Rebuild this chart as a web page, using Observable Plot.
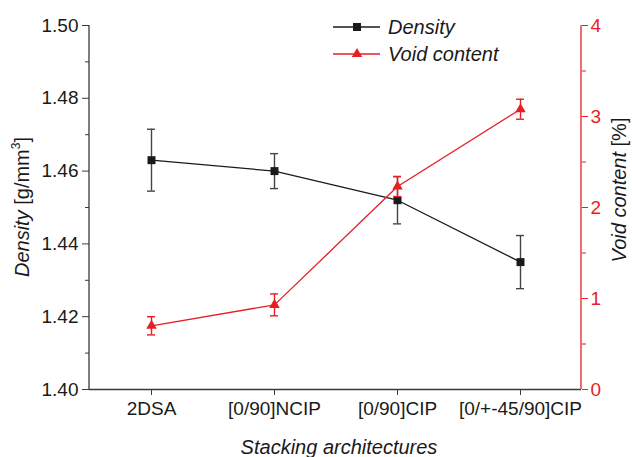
<!DOCTYPE html>
<html><head><meta charset="utf-8">
<script src="https://cdn.jsdelivr.net/npm/d3@7"></script>
<script src="https://cdn.jsdelivr.net/npm/@observablehq/plot@0.6"></script>
<style>
html,body{margin:0;padding:0;background:#fff;}
#chart{position:relative;width:632px;height:457px;}
</style></head><body><div id="chart"></div>
<script>
// ---- data ----
const categories = ["2DSA", "[0/90]NCIP", "[0/90]CIP", "[0/+-45/90]CIP"];
const density = [1.463, 1.460, 1.452, 1.435];
const densityErr = [0.0085, 0.0048, 0.0065, 0.0073];
const voidContent = [0.70, 0.93, 2.23, 3.08];
const voidErr = [0.10, 0.12, 0.11, 0.11];
const densityTicks = [1.40, 1.42, 1.44, 1.46, 1.48, 1.50];
const densityMinorTicks = [1.41, 1.43, 1.45, 1.47, 1.49];
const voidTicks = [0, 1, 2, 3, 4];
const voidMinorTicks = [0.5, 1.5, 2.5, 3.5];

// ---- mapping of the right (void) axis onto the left (density) scale ----
const Y0 = 1.40, Y1 = 1.50, V1 = 4;
const K = (Y1 - Y0) / V1;
const toY = v => Y0 + v * K;
const fromY = y => (y - Y0) / K;

const rows = categories.map((c, i) => ({
  cat: c,
  d: density[i], dlo: density[i] - densityErr[i], dhi: density[i] + densityErr[i],
  v: toY(voidContent[i]), vlo: toY(voidContent[i] - voidErr[i]), vhi: toY(voidContent[i] + voidErr[i])
}));

const black = "#1a1a1a", axisGray = "#3a3a3a", errGray = "#444", red = "#e61e25";
const font = "'Liberation Sans', Arial, sans-serif";

// band scale whose narrow bands give the error-bar cap width
const capFrac = 8 / 123;
const plot = Plot.plot({
  width: 632, height: 457,
  marginLeft: 89, marginRight: 51, marginTop: 25, marginBottom: 68,
  style: {fontFamily: font, fontSize: "19px", color: black, background: "#fff", overflow: "visible"},
  x: {type: "band", domain: categories, paddingInner: 1 - capFrac, paddingOuter: (1 - capFrac) / 2, label: null},
  y: {domain: [Y0, Y1], label: null},
  marks: [
    Plot.ruleY([Y0], {stroke: axisGray, strokeWidth: 1.3}),
    Plot.axisY({ticks: densityTicks, tickFormat: d => d.toFixed(2), tickSize: 7, tickPadding: 4,
      stroke: axisGray, fill: black, fontSize: 19, label: null}),
    Plot.axisY({ticks: densityMinorTicks, tickFormat: () => "", tickSize: 4, stroke: axisGray, label: null}),
    Plot.axisY({anchor: "right", ticks: voidTicks.map(toY), tickFormat: d => String(Math.round(fromY(d))),
      tickSize: 6, tickPadding: 3, stroke: red, fill: red, fontSize: 19, label: null}),
    Plot.axisY({anchor: "right", ticks: voidMinorTicks.map(toY), tickFormat: () => "", tickSize: 4, stroke: red, label: null}),
    Plot.axisX({tickSize: 6, tickPadding: 6, stroke: axisGray, fill: black, fontSize: 19, label: null}),

    // density series
    Plot.line(rows, {x: "cat", y: "d", stroke: black, strokeWidth: 1.3}),
    Plot.ruleX(rows, {x: "cat", y1: "dlo", y2: "dhi", stroke: errGray, strokeWidth: 1.4}),
    Plot.tickY(rows, {x: "cat", y: "dhi", stroke: errGray, strokeWidth: 1.4}),
    Plot.tickY(rows, {x: "cat", y: "dlo", stroke: errGray, strokeWidth: 1.4}),
    Plot.dot(rows, {x: "cat", y: "d", symbol: "square", r: 4.5, fill: black, stroke: "none"}),

    // void content series
    Plot.line(rows, {x: "cat", y: "v", stroke: red, strokeWidth: 1.3}),
    Plot.ruleX(rows, {x: "cat", y1: "vlo", y2: "vhi", stroke: red, strokeWidth: 1.4}),
    Plot.tickY(rows, {x: "cat", y: "vhi", stroke: red, strokeWidth: 1.4}),
    Plot.tickY(rows, {x: "cat", y: "vlo", stroke: red, strokeWidth: 1.4}),
    Plot.dot(rows, {x: "cat", y: "v", symbol: "triangle", r: 3.9, fill: red, stroke: "none"})
  ]
});

document.getElementById("chart").appendChild(plot);

// ---- axis lines, titles and legend ----
const svg = d3.select(plot);
const [xl, xr] = plot.scale("x").range;
const [yb, yt] = plot.scale("y").range;
const ym = (yb + yt) / 2;

svg.append("line").attr("x1", xl).attr("x2", xl).attr("y1", yt).attr("y2", yb)
  .attr("stroke", axisGray).attr("stroke-width", 1.3);
svg.append("line").attr("x1", xr).attr("x2", xr).attr("y1", yt).attr("y2", yb)
  .attr("stroke", red).attr("stroke-width", 1.3);

const titles = svg.append("g").attr("font-family", font).attr("font-size", 20).attr("fill", black);

const lt = titles.append("text").attr("text-anchor", "middle")
  .attr("transform", `translate(${xl - 60},${ym}) rotate(-90)`);
lt.append("tspan").attr("font-style", "italic").text("Density");
lt.append("tspan").text(" [g/mm");
lt.append("tspan").attr("font-size", 12).attr("dy", -9).text("3");
lt.append("tspan").attr("dy", 9).text("]");

const rt = titles.append("text").attr("text-anchor", "middle")
  .attr("transform", `translate(${xr + 45},${ym - 17}) rotate(-90)`);
rt.append("tspan").attr("font-style", "italic").text("Void content");
rt.append("tspan").text(" [%]");

titles.append("text").attr("text-anchor", "middle").attr("font-style", "italic")
  .attr("x", (xl + xr) / 2 + 4).attr("y", yb + 65).text("Stacking architectures");

// legend
const lg = svg.append("g").attr("font-family", font).attr("font-size", 20)
  .attr("font-style", "italic").attr("text-anchor", "start");
const items = [
  {label: "Density", color: black, sym: d3.symbolSquare, size: 64, y: 27},
  {label: "Void content", color: red, sym: d3.symbolTriangle, size: 48, y: 54}
];
for (const it of items) {
  lg.append("line").attr("x1", 333).attr("x2", 380).attr("y1", it.y).attr("y2", it.y)
    .attr("stroke", it.color).attr("stroke-width", 1.3);
  lg.append("path").attr("d", d3.symbol(it.sym, it.size)()).attr("transform", `translate(357,${it.y})`)
    .attr("fill", it.color);
  lg.append("text").attr("x", 388).attr("y", it.y + 7).attr("fill", black).text(it.label);
}
</script>
</body></html>
